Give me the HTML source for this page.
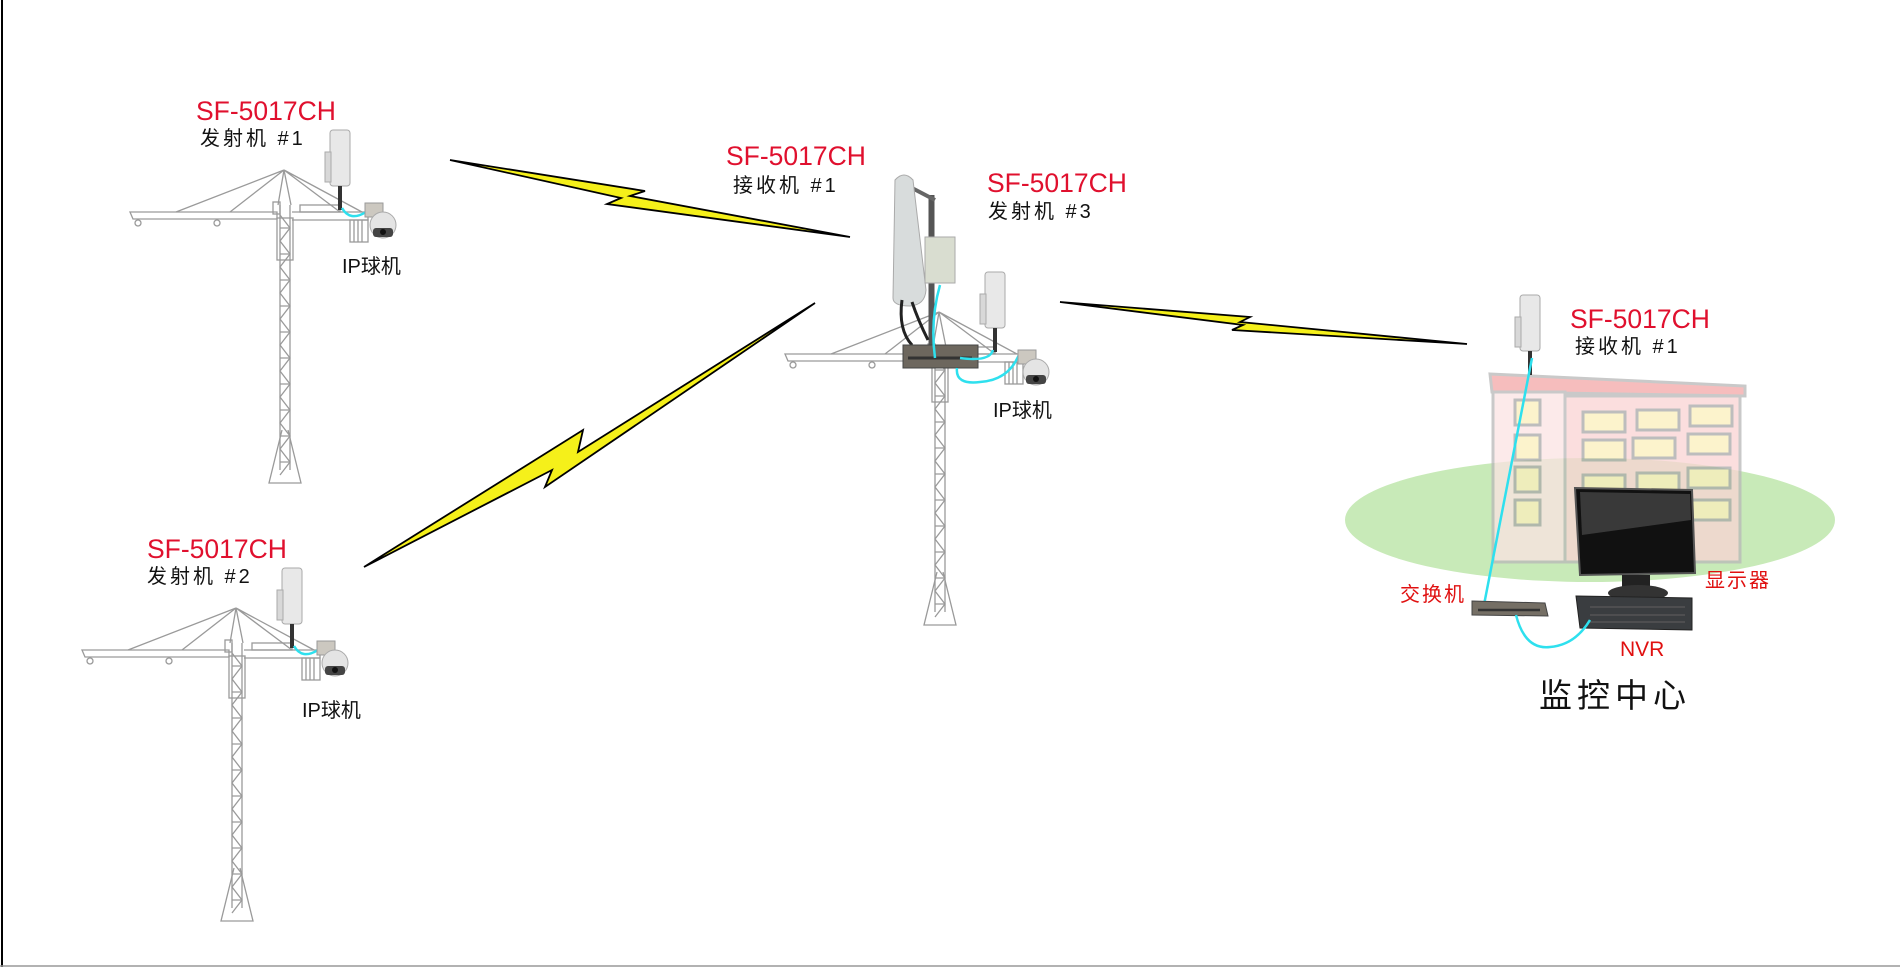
<!DOCTYPE html>
<html><head><meta charset="utf-8">
<style>
html,body{margin:0;padding:0;background:#fff;}
svg{display:block;}
text{font-family:"Liberation Sans","Noto Sans CJK SC",sans-serif;}
.red{fill:#e0102e;}
.blk{fill:#111;}
</style></head>
<body>
<svg width="1900" height="967" viewBox="0 0 1900 967" xmlns="http://www.w3.org/2000/svg">
<defs>
<g id="crane" fill="none" stroke="#9a9a9a" stroke-width="1.3">
  <!-- jib -->
  <path d="M130,212 L277,212 L277,219 L133,219 Z"/>
  <path d="M176,212 L284,170 M230,212 L284,170"/>
  <circle cx="138" cy="223" r="3"/><circle cx="217" cy="223" r="3"/>
  <rect x="273" y="202" width="7" height="12"/>
  <!-- counter jib -->
  <path d="M292,212 L368,212 L368,220 L292,220"/>
  <path d="M284,170 L340,212 M284,170 L362,212"/>
  <rect x="300" y="205" width="40" height="7"/>
  <rect x="350" y="220" width="18" height="22"/>
  <path d="M354,220 V242 M358,220 V242 M362,220 V242"/>
  <!-- mast -->
  <path d="M284,170 L278,205 M284,170 L291,205"/>
  <path d="M280,205 V470 M290,205 V470"/>
  <rect x="277" y="218" width="16" height="42"/>
  <path d="M280,215 L290,228 L280,241 L290,254 L280,267 L290,280 L280,293 L290,306 L280,319 L290,332 L280,345 L290,358 L280,371 L290,384 L280,397 L290,410 L280,423 L290,436 L280,449 L290,462 L280,475"/>
  <path d="M280,228 H290 M280,254 H290 M280,280 H290 M280,306 H290 M280,332 H290 M280,358 H290 M280,384 H290 M280,410 H290 M280,436 H290 M280,462 H290"/>
  <path d="M282,430 L269,483 L301,483 L288,430"/>
</g>
<g id="cam">
  <rect x="-18" y="-22" width="18" height="14" fill="#ccc8c0" stroke="#999" stroke-width="1"/>
  <circle cx="0" cy="0" r="13" fill="#e4e4e4" stroke="#aaa" stroke-width="1"/>
  <rect x="-10" y="3" width="20" height="9" rx="3" fill="#444"/>
  <circle cx="0" cy="7" r="3" fill="#111"/>
</g>
<g id="ant">
  <rect x="0" y="0" width="20" height="56" rx="3" fill="#e8e8e8" stroke="#aaa" stroke-width="1"/>
  <rect x="-5" y="22" width="6" height="30" fill="#d8d8d8" stroke="#aaa" stroke-width="1"/>
  <rect x="8" y="56" width="4" height="24" fill="#333"/>
</g>
</defs>

<!-- border -->
<path d="M2,0 V967" stroke="#000" stroke-width="2"/>
<path d="M0,966 H1900" stroke="#999" stroke-width="1.5"/>

<!-- crane 1 -->
<use href="#crane"/>
<use href="#ant" x="330" y="130"/>
<path d="M342,208 Q350,222 366,212" fill="none" stroke="#2ee0ee" stroke-width="2.5"/>
<use href="#cam" x="383" y="225"/>
<text x="196" y="120" class="red" font-size="26.5">SF-5017CH</text>
<text x="200" y="145" class="blk" font-size="20" letter-spacing="3">发射机 #1</text>
<text x="342" y="273" class="blk" font-size="20">IP球机</text>

<!-- crane 2 -->
<g transform="translate(-48,438)">
<use href="#crane"/>
<use href="#ant" x="330" y="130"/>
<path d="M342,208 Q350,222 366,212" fill="none" stroke="#2ee0ee" stroke-width="2.5"/>
<use href="#cam" x="383" y="225"/>
<text x="195" y="120" class="red" font-size="26.5">SF-5017CH</text>
<text x="195" y="145" class="blk" font-size="20" letter-spacing="3">发射机 #2</text>
<text x="350" y="279" class="blk" font-size="20">IP球机</text>
</g>

<!-- crane 3 -->
<g transform="translate(655,142)"><use href="#crane"/></g>
<path d="M930,195 V350 M933,195 V350" stroke="#555" stroke-width="3"/>
<path d="M912,188 L935,200" stroke="#666" stroke-width="4"/>
<path d="M895,180 Q904,170 913,180 L926,290 Q925,305 910,306 Q893,306 893,298 Z" fill="#d8dcdc" stroke="#aaa" stroke-width="1"/>
<path d="M902,300 Q898,330 912,345 M912,302 Q918,320 928,340" fill="none" stroke="#222" stroke-width="3"/>
<rect x="925" y="237" width="30" height="46" fill="#d9ddd0" stroke="#aaa" stroke-width="1"/>
<use href="#ant" x="985" y="272"/>
<rect x="903" y="345" width="75" height="23" fill="#6d675e" stroke="#444" stroke-width="1"/>
<path d="M908,358 H972" stroke="#333" stroke-width="3"/>
<path d="M940,285 Q930,320 935,358 M993,350 Q990,362 960,358 M957,368 Q955,385 980,382 Q1010,380 1020,352" fill="none" stroke="#2ee0ee" stroke-width="2.5"/>
<use href="#cam" x="1036" y="372"/>
<text x="726" y="165" class="red" font-size="26.5">SF-5017CH</text>
<text x="733" y="192" class="blk" font-size="20" letter-spacing="3">接收机 #1</text>
<text x="987" y="192" class="red" font-size="26.5">SF-5017CH</text>
<text x="988" y="218" class="blk" font-size="20" letter-spacing="3">发射机 #3</text>
<text x="993" y="417" class="blk" font-size="20">IP球机</text>

<!-- lightning bolts -->
<g fill="#f5f01a" stroke="#000" stroke-width="1.8" stroke-linejoin="miter">
<polygon points="450,160 645,191 630,196 850,237 607,204 621,198"/>
<polygon points="815,303 578,452 583,430 364,567 552,470 545,487"/>
<polygon points="1060,302 1250,317 1240,322 1467,344 1232,330 1243,325"/>
</g>

<!-- monitoring center -->
<ellipse cx="1590" cy="520" rx="245" ry="62" fill="#c8eab8"/>
<g opacity="0.75">
<path d="M1490,374 L1745,386 L1745,396 L1492,392 Z" fill="#f4a8a8" stroke="#b8b8b8" stroke-width="3"/>
<rect x="1493" y="392" width="72" height="170" fill="#fbe3e3" stroke="#b8b8b8" stroke-width="3"/>
<rect x="1565" y="396" width="175" height="166" fill="#fad4d4" stroke="#b8b8b8" stroke-width="3"/>
<g fill="#fbefbc" stroke="#a8a8a8" stroke-width="3">
<rect x="1515" y="400" width="25" height="25"/><rect x="1515" y="435" width="25" height="25"/>
<rect x="1515" y="467" width="25" height="25"/><rect x="1515" y="500" width="25" height="25"/>
<rect x="1583" y="412" width="42" height="20"/><rect x="1637" y="410" width="42" height="20"/><rect x="1690" y="406" width="42" height="20"/>
<rect x="1583" y="440" width="42" height="20"/><rect x="1633" y="438" width="42" height="20"/><rect x="1688" y="434" width="42" height="20"/>
<rect x="1583" y="475" width="42" height="20"/><rect x="1637" y="473" width="42" height="20"/><rect x="1688" y="468" width="42" height="20"/>
<rect x="1688" y="500" width="42" height="20"/>
</g>
</g>
<use href="#ant" x="1520" y="295"/>
<path d="M1532,358 L1483,610" stroke="#2ee0ee" stroke-width="2.5"/>
<!-- monitor -->
<path d="M1575,488 L1692,490 L1695,573 L1580,575 Z" fill="#111" stroke="#555" stroke-width="2"/>
<path d="M1580,492 L1690,494 L1691,520 L1582,535 Z" fill="#555" opacity="0.6"/>
<rect x="1622" y="575" width="28" height="15" fill="#222"/>
<ellipse cx="1638" cy="593" rx="30" ry="8" fill="#333"/>
<!-- NVR -->
<path d="M1576,596 L1692,598 L1692,630 L1580,628 Z" fill="#3a3d40" stroke="#222" stroke-width="1"/>
<path d="M1590,607 H1685 M1590,615 H1685 M1590,622 H1685" stroke="#555" stroke-width="1.5"/>
<!-- switch -->
<path d="M1472,601 L1545,603 L1548,616 L1472,615 Z" fill="#756f65" stroke="#444" stroke-width="1"/>
<path d="M1478,610 H1540" stroke="#333" stroke-width="2.5"/>
<path d="M1516,615 Q1525,650 1550,647 Q1575,645 1590,620" fill="none" stroke="#2ee0ee" stroke-width="2.5"/>
<text x="1570" y="328" class="red" font-size="26.5">SF-5017CH</text>
<text x="1575" y="353" class="blk" font-size="20" letter-spacing="3">接收机 #1</text>
<text x="1400" y="601" fill="#e01010" font-size="20" letter-spacing="2">交换机</text>
<text x="1705" y="587" fill="#e01010" font-size="20" letter-spacing="2">显示器</text>
<text x="1620" y="656" fill="#e01010" font-size="21">NVR</text>
<text x="1539" y="707" class="blk" font-size="33" letter-spacing="5">监控中心</text>
</svg>
</body></html>
